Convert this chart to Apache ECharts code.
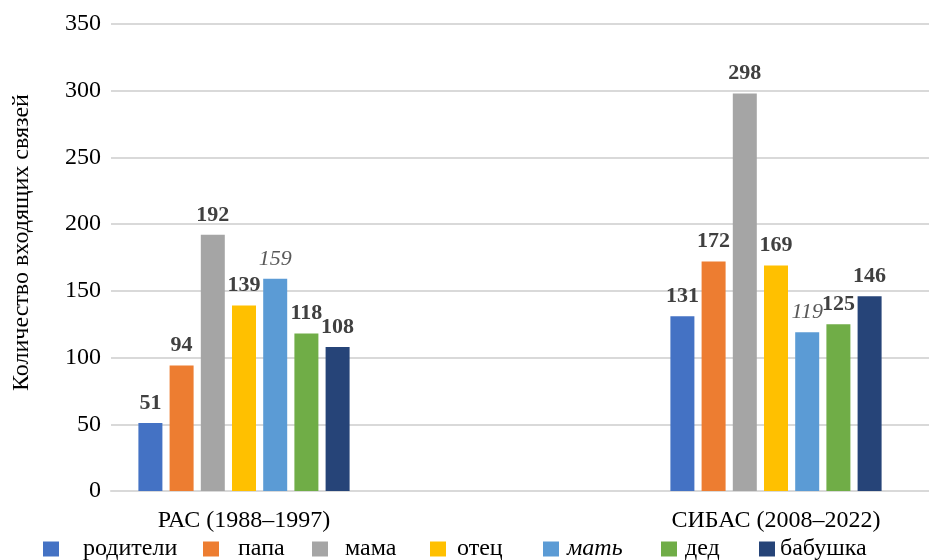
<!DOCTYPE html>
<html><head><meta charset="utf-8">
<script src="https://cdn.jsdelivr.net/npm/echarts@6/dist/echarts.min.js"></script>
<style>html,body{margin:0;padding:0;background:#fff}#c{width:929px;height:560px}</style>
</head><body><div id="c"></div>
<script>
const categories = ['РАС (1988–1997)', '', 'СИБАС (2008–2022)'];
const seriesNames = ['родители', 'папа', 'мама', 'отец', 'мать', 'дед', 'бабушка'];
const rasValues = [51, 94, 192, 139, 159, 118, 108];
const sibasValues = [131, 172, 298, 169, 119, 125, 146];
const yTicks = [0, 50, 100, 150, 200, 250, 300, 350];
const yAxisName = 'Количество входящих связей';

const colors = ['#4472C4', '#ED7D31', '#A5A5A5', '#FFC000', '#5B9BD5', '#70AD47', '#264478'];
const FONT = 'Liberation Serif';
const legendLefts = [43, 203, 312, 430, 543, 661, 759];
const legendTextPad = [19, 14, 12, 6, 3, 3, 0];

const chart = echarts.init(document.getElementById('c'));
const series = seriesNames.map((n, i) => {
  const italic = n === 'мать';
  return {
    name: n, type: 'bar', xAxisIndex: 1, yAxisIndex: 1,
    barWidth: 24, barGap: '30%',
    itemStyle: { color: colors[i] },
    data: [rasValues[i], '-', sibasValues[i]],
    label: {
      show: true, position: 'top', distance: 9,
      fontFamily: FONT, fontSize: 22,
      fontWeight: italic ? 'normal' : 'bold',
      fontStyle: italic ? 'italic' : 'normal',
      color: italic ? '#595959' : '#404040'
    }
  };
});
const legends = seriesNames.map((n, i) => ({
  data: [n], left: legendLefts[i], top: 537, padding: 0,
  icon: 'rect', itemWidth: 16, itemHeight: 15,
  textStyle: {
    fontFamily: FONT, fontSize: 24, color: '#000',
    fontStyle: n === 'мать' ? 'italic' : 'normal',
    padding: [0, 0, 0, legendTextPad[i]]
  }
}));
chart.setOption({
  animation: false,
  textStyle: { fontFamily: FONT },
  legend: legends,
  grid: [
    { left: 111, right: 0, top: 24, bottom: 69 },
    { left: 111, width: 798, top: 24, bottom: 69 }
  ],
  xAxis: [
    { type: 'category', gridIndex: 0, data: categories,
      axisLine: { lineStyle: { color: '#d9d9d9', width: 2 } },
      axisTick: { show: false }, axisLabel: { show: false } },
    { type: 'category', gridIndex: 1, data: categories,
      axisLine: { show: false }, axisTick: { show: false },
      axisLabel: { fontFamily: FONT, fontSize: 24, color: '#000', margin: 18, interval: 0 } }
  ],
  yAxis: [
    { type: 'value', gridIndex: 0, min: yTicks[0], max: yTicks[yTicks.length - 1], interval: 50,
      name: yAxisName, nameLocation: 'middle', nameGap: 77, nameRotate: 90,
      nameTextStyle: { fontFamily: FONT, fontSize: 24, color: '#000', padding: [0, 0, 0, 30] },
      axisLine: { show: false }, axisTick: { show: false },
      axisLabel: { fontFamily: FONT, fontSize: 24, color: '#000', margin: 10 },
      splitLine: { lineStyle: { color: '#d9d9d9', width: 2 } } },
    { type: 'value', gridIndex: 1, min: yTicks[0], max: yTicks[yTicks.length - 1], interval: 50,
      show: false }
  ],
  series: series
});
</script></body></html>
